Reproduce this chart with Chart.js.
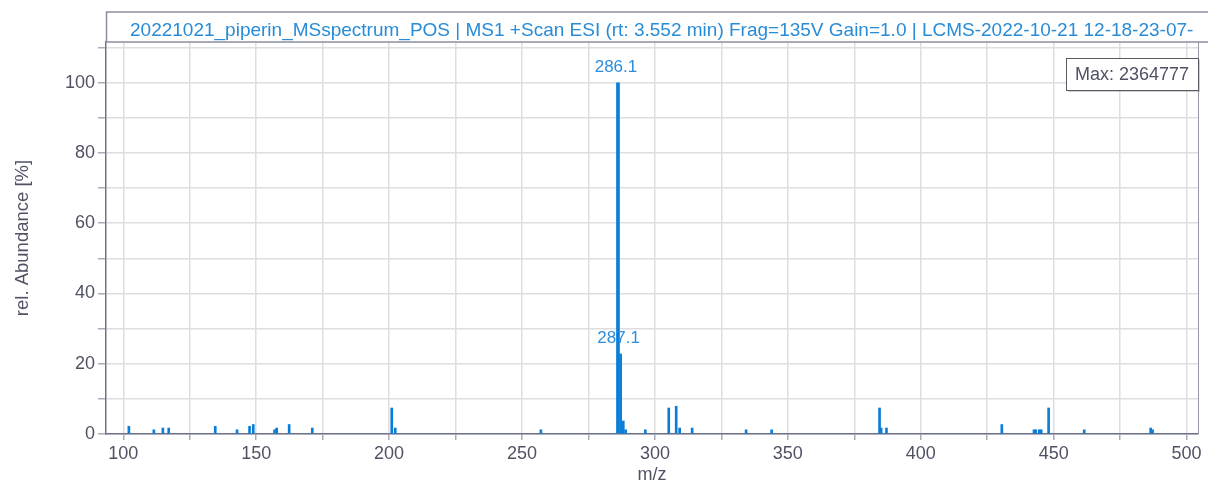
<!DOCTYPE html>
<html>
<head>
<meta charset="utf-8">
<script src="https://cdn.jsdelivr.net/npm/chart.js@4.4.0/dist/chart.umd.min.js"></script>
<style>
  html, body { margin: 0; padding: 0; background: #fff; }
  #wrap { width: 1208px; height: 486px; }
</style>
</head>
<body>
<div id="wrap"><canvas id="chart" width="1208" height="486"></canvas></div>
<script>
// peaks (m/z, rel. abundance in %)
const peakMz = [102.1, 111.5, 114.9, 117.1, 134.6, 142.8, 147.5, 148.9, 156.9, 157.7,
  162.4, 171.1, 201.0, 202.3, 257.1, 287.1, 288.1, 289.0, 296.4, 305.2, 308.0, 309.3,
  314.0, 334.3, 343.9, 384.5, 385.1, 387.1, 430.5, 442.6, 443.3, 444.6, 445.3, 448.1,
  461.5, 486.5, 487.2];
const peakAbund = [2.2, 1.2, 1.7, 1.7, 2.2, 1.2, 2.2, 2.7, 1.2, 1.7,
  2.7, 1.7, 7.4, 1.7, 1.2, 22.8, 3.7, 1.2, 1.2, 7.4, 7.9, 1.7,
  1.7, 1.2, 1.2, 7.4, 1.7, 1.7, 2.7, 1.2, 1.2, 1.2, 1.2, 7.4,
  1.2, 1.7, 1.2];
const basePeakMz = [286.1];
const basePeakAbund = [100];

const labelMz = [286.1, 287.1];
const labelAbund = [100, 22.8];

const xLabelTicks = [100, 150, 200, 250, 300, 350, 400, 450, 500];
const yLabelTicks = [0, 20, 40, 60, 80, 100];

const titleText = '20221021_piperin_MSspectrum_POS | MS1 +Scan ESI (rt: 3.552 min) Frag=135V Gain=1.0 | LCMS-2022-10-21 12-18-23-07-';
const maxText = 'Max: 2364777';

const FONT = '"Liberation Sans", Arial, sans-serif';
const BLUE = 'rgb(10,125,215)';
const AXIS_TEXT = 'rgb(80,82,100)';

const toPoints = (xs, ys) => xs.map((x, i) => ({ x: x, y: ys[i] }));

// title box, max box and right border
const framePlugin = {
  id: 'frame',
  afterDraw(chart) {
    const ctx = chart.ctx;
    const a = chart.chartArea;
    ctx.save();
    // plot border on the right
    ctx.strokeStyle = 'rgb(150,152,165)';
    ctx.lineWidth = 1;
    ctx.beginPath();
    ctx.moveTo(a.right + 0.5, a.top);
    ctx.lineTo(a.right + 0.5, a.bottom);
    ctx.stroke();

    // title box
    ctx.fillStyle = '#fff';
    ctx.fillRect(a.left, 12, 1208 - a.left, a.top - 12);
    ctx.strokeStyle = 'rgb(140,142,160)';
    ctx.lineWidth = 1.5;
    ctx.strokeRect(a.left + 0.5, 12, 1208, a.top - 12);
    ctx.fillStyle = 'rgb(40,140,215)';
    ctx.font = '19px ' + FONT;
    ctx.textBaseline = 'middle';
    ctx.textAlign = 'left';
    ctx.fillText(titleText, 130, 31);

    // max box
    const bx = 1066, by = 58, bw = 132, bh = 32;
    ctx.fillStyle = 'rgba(120,120,130,0.35)';
    ctx.fillRect(bx + 2, by + 2, bw, bh);
    ctx.fillStyle = '#fff';
    ctx.fillRect(bx, by, bw, bh);
    ctx.strokeStyle = 'rgb(90,90,100)';
    ctx.lineWidth = 1;
    ctx.strokeRect(bx + 0.5, by + 0.5, bw, bh);
    ctx.fillStyle = AXIS_TEXT;
    ctx.font = '18px ' + FONT;
    ctx.textAlign = 'center';
    ctx.fillText(maxText, bx + bw / 2, by + bh / 2 + 1);
    ctx.restore();
  }
};

// m/z labels above the main peaks
const peakLabelPlugin = {
  id: 'peakLabels',
  afterDatasetsDraw(chart) {
    const ctx = chart.ctx;
    const xs = chart.scales.x, ys = chart.scales.y;
    ctx.save();
    ctx.fillStyle = 'rgb(45,140,220)';
    ctx.font = '17px ' + FONT;
    ctx.textAlign = 'center';
    ctx.textBaseline = 'bottom';
    labelMz.forEach((mz, i) => {
      ctx.fillText(mz.toFixed(1), xs.getPixelForValue(mz) - 2, ys.getPixelForValue(labelAbund[i]) - 7);
    });
    ctx.restore();
  }
};

new Chart(document.getElementById('chart'), {
  type: 'bar',
  data: {
    datasets: [
      {
        label: 'base peak',
        data: toPoints(basePeakMz, basePeakAbund),
        backgroundColor: BLUE,
        barThickness: 3
      },
      {
        label: 'peaks',
        data: toPoints(peakMz, peakAbund),
        backgroundColor: BLUE,
        barThickness: 2
      }
    ]
  },
  options: {
    responsive: false,
    devicePixelRatio: 1,
    animation: false,
    grouped: false,
    layout: { padding: { top: 42, right: 10, left: 0, bottom: 0 } },
    plugins: {
      legend: { display: false },
      tooltip: { enabled: false }
    },
    scales: {
      x: {
        type: 'linear',
        min: 93.5,
        max: 504.3,
        offset: false,
        afterFit(scale) { scale.height = 52; },
        ticks: {
          stepSize: 25,
          includeBounds: false,
          autoSkip: false,
          maxRotation: 0,
          padding: 3,
          color: AXIS_TEXT,
          font: { family: FONT, size: 18 },
          callback: (v) => xLabelTicks.includes(v) ? String(v) : ''
        },
        grid: {
          color: 'rgb(222,222,225)',
          lineWidth: 1.5,
          tickLength: 6,
          tickColor: 'rgb(170,172,185)',
          offset: false
        },
        border: { color: 'rgb(110,114,140)', width: 1.5 },
        title: {
          display: true,
          text: 'm/z',
          color: AXIS_TEXT,
          font: { family: FONT, size: 18 },
          padding: { top: 0, bottom: 0 }
        }
      },
      y: {
        min: 0,
        max: 111.6,
        afterFit(scale) { scale.width = 106; },
        ticks: {
          stepSize: 10,
          includeBounds: false,
          padding: 3,
          color: AXIS_TEXT,
          font: { family: FONT, size: 18 },
          callback: (v) => yLabelTicks.includes(v) ? String(v) : ''
        },
        grid: {
          color: 'rgb(222,222,225)',
          lineWidth: 1.5,
          tickLength: 8,
          tickColor: 'rgb(170,172,185)'
        },
        border: { color: 'rgb(110,114,140)', width: 1.5 },
        title: {
          display: true,
          text: 'rel. Abundance [%]',
          color: AXIS_TEXT,
          font: { family: FONT, size: 18.5 },
          padding: { top: 12, bottom: 10 }
        }
      }
    }
  },
  plugins: [framePlugin, peakLabelPlugin]
});
</script>
</body>
</html>
